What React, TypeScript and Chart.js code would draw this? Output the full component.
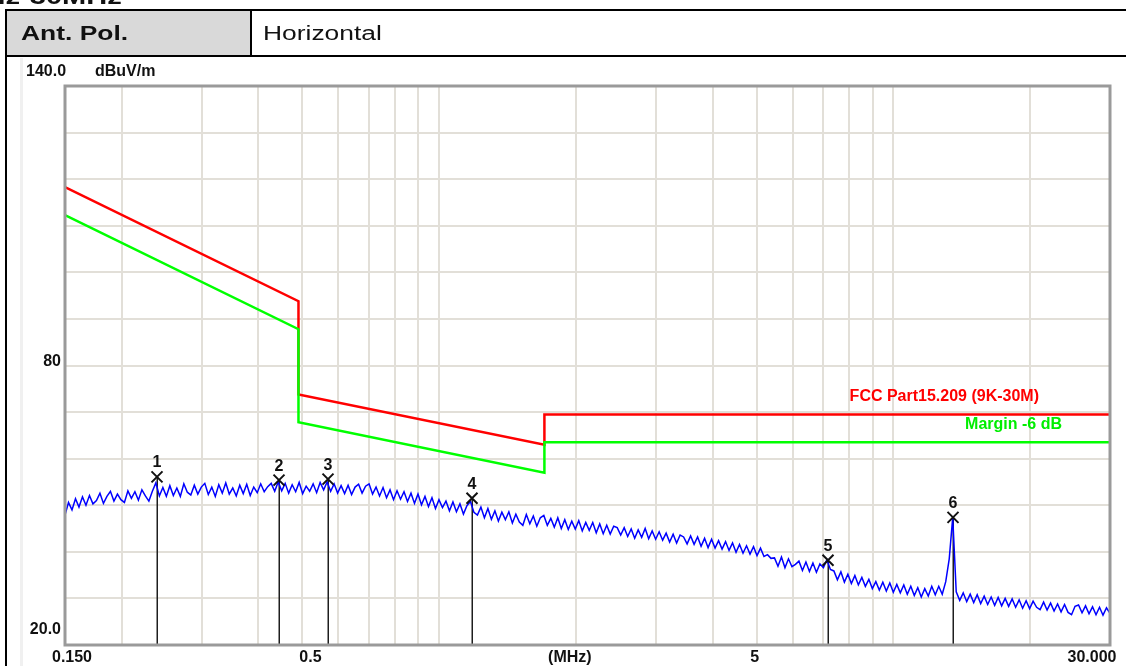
import React, { useEffect, useRef } from "react";
import { Chart, registerables } from "chart.js";

Chart.register(...registerables);

// ---- data ----
const SWEEP_START_MHZ = 0.15;
const SWEEP_STOP_MHZ = 30;
const TRACE_DB = [
  47.9, 50.6, 49.0, 51.4, 49.6, 51.8, 50.0, 52.1, 50.3, 51.0,
  52.6, 50.4, 51.9, 53.0, 50.9, 52.4, 51.2, 50.6, 53.1, 51.5,
  52.9, 51.1, 53.3, 52.0, 50.9, 53.0, 54.8, 52.0, 53.8, 51.9,
  54.2, 52.1, 53.7, 51.9, 54.6, 52.8, 52.2, 54.3, 52.4, 53.9,
  54.7, 52.3, 53.9, 51.9, 54.4, 52.6, 54.8, 52.4, 53.7, 52.0,
  54.3, 52.5, 54.5, 52.1, 53.9, 52.7, 54.6, 52.9, 54.0, 54.7,
  53.0, 55.0, 53.1, 54.7, 52.6, 54.4, 52.9, 54.9, 52.5, 54.1,
  53.0, 54.6, 52.7, 54.9, 53.3, 55.0, 53.0, 54.6, 52.6, 54.2,
  52.5, 54.3, 52.3, 53.9, 54.5, 52.6, 54.1, 54.6, 52.4, 53.9,
  52.0, 53.8, 51.6, 53.3, 51.2, 53.1, 51.3, 52.9, 50.8, 52.6,
  50.4, 52.4, 50.1, 51.9, 49.7, 51.6, 49.3, 51.2, 49.5, 50.9,
  48.8, 50.7, 48.6, 50.3, 48.1, 49.9, 50.8, 48.5, 47.9, 49.6,
  47.3, 49.3, 47.0, 48.8, 46.6, 48.5, 46.9, 48.6, 46.2, 48.1,
  46.4, 45.7, 48.0, 46.0, 47.7, 45.5, 47.3, 47.8, 45.7, 47.2,
  45.3, 47.3, 45.0, 46.9, 44.8, 46.6, 44.9, 46.7, 44.5, 46.3,
  44.6, 46.3, 44.1, 46.0, 43.9, 45.7, 43.8, 45.5, 45.2, 43.6,
  45.2, 43.3, 44.9, 42.9, 44.7, 43.1, 45.0, 42.8, 44.5, 42.7,
  44.3, 42.5, 44.0, 42.1, 43.8, 41.9, 43.6, 43.2, 41.7, 43.4,
  41.6, 43.2, 41.2, 42.9, 40.9, 42.7, 40.8, 42.4, 40.6, 42.2,
  40.3, 41.9, 39.9, 41.6, 39.7, 41.3, 39.5, 41.1, 39.2, 40.8,
  39.0, 39.4, 38.6, 38.7, 36.9, 38.9, 36.6, 38.5, 36.8, 37.3,
  38.0, 36.0, 37.8, 35.8, 37.6, 35.6, 37.4, 36.6, 38.3, 36.2,
  35.9, 34.0, 35.7, 33.5, 35.2, 33.2, 34.9, 32.9, 34.5, 32.6,
  34.1, 32.1, 33.6, 31.8, 33.5, 31.6, 33.3, 31.3, 33.0, 31.2,
  32.9, 30.9, 32.6, 30.6, 32.3, 30.3, 32.1, 30.5, 32.6, 30.8,
  32.6, 30.9, 33.6, 38.5, 47.4, 31.4, 29.6, 31.2, 29.3, 30.9,
  29.1, 30.8, 28.9, 30.5, 28.7, 30.3, 28.5, 30.2, 28.4, 30.0,
  28.3, 29.9, 28.1, 29.7, 27.9, 29.5, 27.8, 29.4, 28.1, 27.6,
  29.2, 27.5, 29.0, 27.3, 28.8, 27.1, 28.7, 27.0, 26.5, 28.3,
  28.6, 26.9, 28.4, 26.7, 28.2, 26.5, 28.1, 26.4, 28.0, 26.8,
];

const LIMIT_FREQ = [0.15, 0.49, 0.49, 1.705, 1.705, 30];
const LIMIT_DB = [118.3, 93.8, 73.8, 63.0, 69.5, 69.5];
const MARGIN_DB = [112.3, 87.8, 67.8, 57.0, 63.5, 63.5];

const MARKER_LABELS = ["1", "2", "3", "4", "5", "6"];
const MARKER_FREQ = [0.239, 0.4436, 0.569, 1.18, 7.18, 13.56];
const MARKER_DB = [56.1, 55.4, 55.6, 51.5, 38.2, 47.4];

const X_GRID = [
  0.15, 0.2, 0.3, 0.4, 0.5, 0.6, 0.7, 0.8, 0.9,
  1, 2, 3, 4, 5, 6, 7, 8, 9, 10, 20, 30,
];
const X_TICK_TEXT = ["0.150", "0.5", "(MHz)", "5", "30.000"];
const X_TICK_AT = [0.15, 0.5, 1.94, 5, 30];
const Y_TICK_TEXT = ["140.0", "80", "20.0"];
const Y_TICK_AT = [140, 80, 20];
const Y_UNIT = "dBuV/m";
const LIMIT_NAME = "FCC Part15.209 (9K-30M)";
const MARGIN_NAME = "Margin -6 dB";

// ---- styles ----
const X_TICK_NUDGE = [7, 8, 0, -2, -18];
const Y_TICK_POS = [
  { x: 26, align: "left", dy: 0, absY: 72 },
  { x: 61, align: "right", dy: -4 },
  { x: 61, align: "right", dy: -15 },
];
const LABEL_FONT = "bold 16px 'Liberation Sans', Arial, sans-serif";

const overlay = {
  id: "overlay",
  beforeDatasetsDraw(chart: any) {
    const { ctx, chartArea: a, scales } = chart;
    const x = scales.x, y = scales.y;
    ctx.save();
    ctx.strokeStyle = "#1e1e1e";
    ctx.lineWidth = 1.5;
    MARKER_FREQ.forEach((f, i) => {
      const px = Math.round(x.getPixelForValue(f)) + 0.25;
      const py = y.getPixelForValue(MARKER_DB[i]);
      ctx.beginPath();
      ctx.moveTo(px, py);
      ctx.lineTo(px, a.bottom);
      ctx.stroke();
    });
    ctx.restore();
  },
  afterDatasetsDraw(chart: any) {
    const { ctx, chartArea: a, scales } = chart;
    const x = scales.x, y = scales.y;
    ctx.save();
    // frame
    ctx.strokeStyle = "#9a9a9a";
    ctx.lineWidth = 3;
    ctx.strokeRect(a.left, a.top, a.right - a.left, a.bottom - a.top);
    // markers
    ctx.strokeStyle = "#111";
    ctx.lineWidth = 2;
    ctx.fillStyle = "#111";
    ctx.font = LABEL_FONT;
    ctx.textAlign = "center";
    ctx.textBaseline = "middle";
    MARKER_FREQ.forEach((f, i) => {
      const px = Math.round(x.getPixelForValue(f));
      const py = y.getPixelForValue(MARKER_DB[i]);
      const s = 5.5;
      ctx.beginPath();
      ctx.moveTo(px - s, py - s);
      ctx.lineTo(px + s, py + s);
      ctx.moveTo(px + s, py - s);
      ctx.lineTo(px - s, py + s);
      ctx.stroke();
      ctx.fillText(MARKER_LABELS[i], px, py - 14);
    });
    // limit labels
    ctx.textAlign = "right";
    ctx.fillStyle = "#ff0000";
    ctx.fillText(LIMIT_NAME, 1039, y.getPixelForValue(LIMIT_DB[LIMIT_DB.length - 1]) - 18);
    ctx.fillStyle = "#00ee00";
    ctx.fillText(MARGIN_NAME, 1062, y.getPixelForValue(MARGIN_DB[MARGIN_DB.length - 1]) - 18);
    // axis texts
    ctx.fillStyle = "#111";
    X_TICK_TEXT.forEach((t, i) => {
      const px = x.getPixelForValue(X_TICK_AT[i]) + X_TICK_NUDGE[i];
      ctx.textAlign = "center";
      ctx.fillText(t, px, 658);
    });
    Y_TICK_TEXT.forEach((t, i) => {
      const p: any = Y_TICK_POS[i];
      const py = p.absY !== undefined ? p.absY : y.getPixelForValue(Y_TICK_AT[i]) + p.dy;
      ctx.textAlign = p.align;
      ctx.fillText(t, p.x, py);
    });
    ctx.textAlign = "left";
    ctx.fillText(Y_UNIT, 95, 72);
    ctx.restore();
  },
};

export default function App() {
  const ref = useRef<HTMLCanvasElement | null>(null);
  useEffect(() => {
    if (!ref.current) return;
    const n = TRACE_DB.length;
    const trace = TRACE_DB.map((v, i) => ({
      x: SWEEP_START_MHZ * Math.pow(SWEEP_STOP_MHZ / SWEEP_START_MHZ, i / (n - 1)),
      y: v,
    }));
    const limit = LIMIT_FREQ.map((f, i) => ({ x: f, y: LIMIT_DB[i] }));
    const margin = LIMIT_FREQ.map((f, i) => ({ x: f, y: MARGIN_DB[i] }));
    const chart = new Chart(ref.current, {
      type: "line",
      data: {
        datasets: [
          { label: "trace", data: trace, borderColor: "#0000ff", borderWidth: 1.5, pointRadius: 0, tension: 0 },
          { label: MARGIN_NAME, data: margin, borderColor: "#00ff00", borderWidth: 2.5, pointRadius: 0, tension: 0 },
          { label: LIMIT_NAME, data: limit, borderColor: "#ff0000", borderWidth: 2.5, pointRadius: 0, tension: 0 },
        ],
      },
      options: {
        responsive: false,
        animation: false,
        events: [],
        layout: { padding: { left: 0, top: 86, right: 16, bottom: 0 } },
        plugins: { legend: { display: false }, tooltip: { enabled: false } },
        scales: {
          x: {
            type: "logarithmic",
            min: SWEEP_START_MHZ,
            max: SWEEP_STOP_MHZ,
            afterBuildTicks: (s: any) => {
              s.ticks = X_GRID.map((v) => ({ value: v }));
            },
            afterFit: (s: any) => {
              s.height = 21;
            },
            ticks: { display: false },
            grid: { color: "#e2dfd8", lineWidth: 2, drawTicks: false },
            border: { display: false },
          },
          y: {
            type: "linear",
            min: 20,
            max: 140,
            afterFit: (s: any) => {
              s.width = 65;
            },
            ticks: { display: false, stepSize: 10 },
            grid: { color: "#e2dfd8", lineWidth: 2, drawTicks: false },
            border: { display: false },
          },
        },
      } as any,
      plugins: [overlay],
    });
    return () => chart.destroy();
  }, []);

  const stretch: React.CSSProperties = {
    position: "absolute",
    transform: "scaleX(1.32)",
    transformOrigin: "left top",
    fontFamily: "'Liberation Sans', Arial, sans-serif",
    lineHeight: 1,
    whiteSpace: "nowrap",
    color: "#111",
  };

  return (
    <div style={{ position: "fixed", left: 0, top: 0, width: 1126, height: 666, background: "#fff", overflow: "hidden" }}>
      <div style={{ position: "absolute", left: 20, top: 58, width: 3, height: 608, background: "#f0f0f0" }} />
      <canvas ref={ref} width={1126} height={666} style={{ position: "absolute", left: 0, top: 0, width: 1126, height: 666 }} />
      <div style={{ ...stretch, left: -80, top: -14, fontSize: 22, fontWeight: "bold" }}>150kHz-30MHz</div>
      <div style={{ position: "absolute", left: 7, top: 11, width: 243, height: 45, background: "#d9d9d9" }} />
      <div style={{ position: "absolute", left: 5, top: 9, width: 1121, height: 2, background: "#000" }} />
      <div style={{ position: "absolute", left: 5, top: 55, width: 1121, height: 2, background: "#000" }} />
      <div style={{ position: "absolute", left: 5, top: 9, width: 2, height: 657, background: "#000" }} />
      <div style={{ position: "absolute", left: 250, top: 10, width: 1.5, height: 46, background: "#000" }} />
      <div style={{ ...stretch, left: 21, top: 22.5, fontSize: 20, fontWeight: "bold" }}>Ant. Pol.</div>
      <div style={{ ...stretch, left: 263, top: 22.5, fontSize: 20 }}>Horizontal</div>
    </div>
  );
}
